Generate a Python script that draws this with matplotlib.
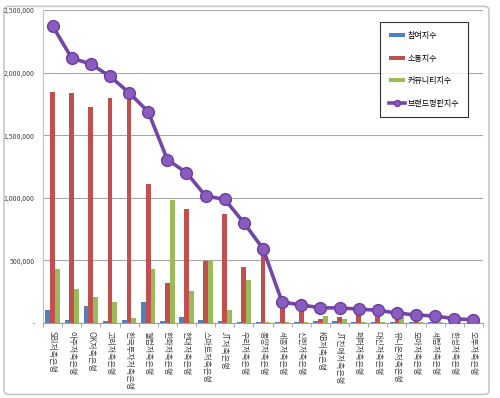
import matplotlib.pyplot as plt
import matplotlib.patches as patches
from matplotlib.ticker import FuncFormatter
import numpy as np

plt.rcParams['font.family'] = ['Noto Sans CJK KR', 'DejaVu Sans']

banks = ['SBI저축은행', '아주저축은행', 'OK저축은행', '고려저축은행', '한국투자저축은행',
         '웰컴저축은행', '한화저축은행', '현대저축은행', '스마트저축은행', 'JT저축은행',
         '우리저축은행', '동양저축은행', '세종저축은행', '신한저축은행', 'KB저축은행',
         'JT친애저축은행', '페퍼저축은행', '대신저축은행', '유니온저축은행', '모아저축은행',
         '세람저축은행', '한성저축은행', '오투저축은행']
participation = [104000, 24000, 138000, 16000, 24000, 165000, 13000, 50000, 24000, 16000,
                 8000, 8000, 10000, 10000, 15000, 15000, 10000, 10000, 5000, 10000,
                 12000, 3000, 2000]
communication = [1843000, 1835000, 1726000, 1800000, 1782000, 1108000, 317000, 908000, 498000, 868000,
                 450000, 570000, 150000, 138000, 32000, 50000, 105000, 95000, 35000, 45000,
                 20000, 5000, 3000]
community = [431000, 269000, 210000, 165000, 37000, 429000, 983000, 256000, 498000, 104000,
             344000, 6000, 10000, 8000, 58000, 30000, 5000, 5000, 45000, 5000,
             12000, 2000, 2000]
reputation = [2373000, 2117000, 2069000, 1971000, 1840000, 1688000, 1305000, 1201000, 1015000, 988000,
              801000, 594000, 168000, 144000, 122000, 120000, 112000, 101000, 80000, 64000,
              56000, 34000, 26000]
series_names = ['참여지수', '소통지수', '커뮤니티지수', '브랜드평판지수']

fig = plt.figure(figsize=(5.0, 3.98), dpi=100)
border = patches.FancyBboxPatch((0.008, 0.009), 0.97, 0.975, boxstyle='round,pad=0,rounding_size=0.01',
                                transform=fig.transFigure, fc='white', ec='#c8c8c8', lw=1.2, zorder=-5)
fig.patches.append(border)
ax = fig.add_axes([0.086, 0.1884, 0.88, 0.7862])
ax.patch.set_alpha(0)

x = np.arange(len(banks))
w = 0.25
b1 = ax.bar(x - w, participation, w, color='#4F81BD', label=series_names[0], zorder=2)
b2 = ax.bar(x, communication, w, color='#C0504D', label=series_names[1], zorder=2)
b3 = ax.bar(x + w, community, w, color='#9BBB59', label=series_names[2], zorder=2)
l1, = ax.plot(x, reputation, color='#7346A8', lw=2.6, marker='o', ms=8.5, mfc='#8A5CC0', mec='#6A3E9E',
              label=series_names[3], zorder=3)

ax.set_xlim(-0.5, len(banks) - 0.5)
ax.set_ylim(0, 2500000)
ax.set_yticks(np.arange(0, 2500001, 500000))
ax.yaxis.set_major_formatter(FuncFormatter(lambda v, p: '-' if v == 0 else f'{int(v):,}'))
ax.tick_params(axis='y', length=0, labelsize=5, labelcolor='#444444', pad=6)
ax.grid(axis='y', color='#a8a8a8', lw=0.8, zorder=0)
ax.set_xticks(x)
ax.set_xticklabels(banks, rotation=270, fontsize=5.8, color='#444444', va='top', ha='center')
ax.set_xticks(np.arange(-0.5, len(banks), 1), minor=True)
ax.tick_params(axis='x', which='major', length=0, pad=6)
ax.tick_params(axis='x', which='minor', length=3, color='#a0a0a0')
for s in ['top', 'right']:
    ax.spines[s].set_visible(False)
ax.spines['left'].set_color('#c0c0c0')
ax.spines['bottom'].set_color('#a0a0a0')

leg = ax.legend([b1, b2, b3, l1], series_names, loc='upper right', bbox_to_anchor=(0.966, 0.962),
                borderaxespad=0, fontsize=5.8, frameon=True, fancybox=False, labelspacing=1.7,
                handlelength=2.0, handleheight=0.4, borderpad=1.1, handletextpad=0.3, markerscale=0.5)
leg.get_frame().set_edgecolor('black')
leg.get_frame().set_linewidth(0.8)

fig.savefig('out.png', dpi=100)
